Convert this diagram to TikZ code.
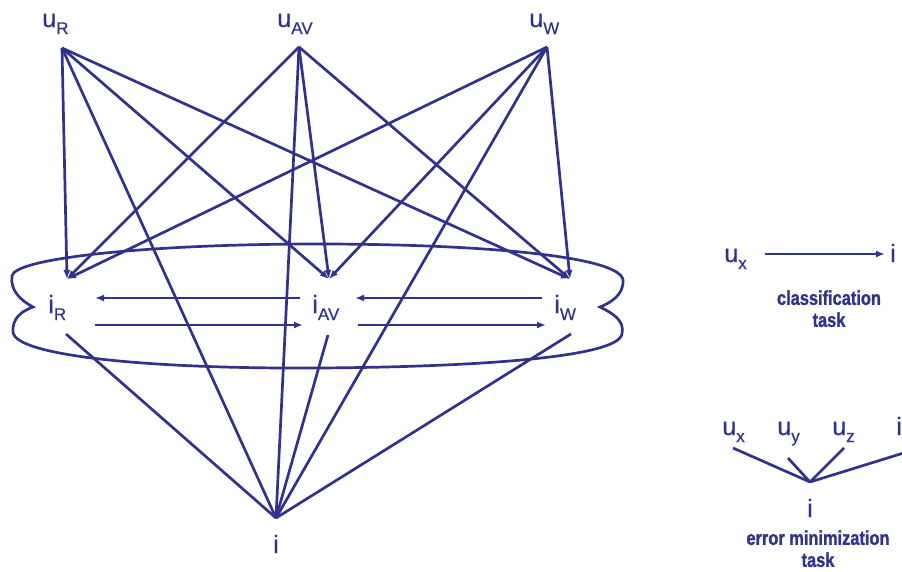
\documentclass[tikz,border=0pt]{standalone}
\usepackage{fontspec}
\setmainfont{Liberation Sans}
\newfontfamily\taskfont[FakeStretch=0.82,FakeBold=1.2]{Liberation Sans Bold}
\newfontfamily\lblfont[FakeBold=0.5]{Liberation Sans}
\usetikzlibrary{arrows.meta}
\definecolor{navy}{RGB}{50,50,140}
\newcommand{\lsub}[1]{\raisebox{-7pt}{\fontsize{17}{17}\selectfont #1}}

\begin{document}
\begin{tikzpicture}[x=1pt, y=-1pt, line width=2.7pt, draw=navy, text=navy,
    lbl/.style={inner sep=0pt, anchor=base west, font=\lblfont\fontsize{25}{25}\selectfont},
    tasklbl/.style={inner sep=0pt, anchor=north, align=center, font=\taskfont\fontsize{20}{22}\selectfont},
    arr/.style={-{Latex[length=9pt,width=7pt]}}]

      \useasboundingbox (0,0) rectangle (902,571);

      % Labels of the left graph
      \node[lbl] (uR) at (41,27) {u\lsub{R}};
      \node[lbl] (uAV) at (276,27) {u\lsub{AV}};
      \node[lbl] (uW) at (528,27) {u\lsub{W}};
      \node[lbl] (iR) at (47,313) {i\lsub{R}};
      \node[lbl] (iAV) at (311,313) {i\lsub{AV}};
      \node[lbl] (iW) at (553,313) {i\lsub{W}};
      \node[lbl, anchor=base] (i) at (276,553) {i};

      % Connection points
      \coordinate (uR-o) at (62,48);
      \coordinate (uAV-o) at (299,47);
      \coordinate (uW-o) at (547,47);
      \coordinate (iR-in) at (67,279);
      \coordinate (iAV-in) at (329,279);
      \coordinate (iW-in) at (570,279);
      \coordinate (iR-o) at (66,334);
      \coordinate (iAV-o) at (328,335);
      \coordinate (iW-o) at (571,334);
      \coordinate (apex) at (276,518);

      % Every user node feeds every item node and the final item
      \foreach \s in {uR,uAV,uW} {
        \foreach \t in {iR,iAV,iW} {
          \draw[arr] (\s-o) -- (\t-in);
        }
        \draw (\s-o) -- (apex);
      }

      % Item nodes feed the final item
      \foreach \t in {iR,iAV,iW} {
        \draw (\t-o) -- (apex);
      }

      % Arrows between the item nodes
      \coordinate (rUp) at (95,298);
      \coordinate (rLo) at (95,325);
      \coordinate (avUpL) at (300,298);
      \coordinate (avLoL) at (303,325);
      \coordinate (avUpR) at (355,298);
      \coordinate (avLoR) at (358,325);
      \coordinate (wUp) at (542,298);
      \coordinate (wLo) at (546,325);
      \draw[arr] (avUpL) -- (rUp);
      \draw[arr] (rLo) -- (avLoL);
      \draw[arr] (wUp) -- (avUpR);
      \draw[arr] (avLoR) -- (wLo);

      % Outline round the item nodes
      \draw (33,307) .. controls (20,300) and (10,290) .. (12,276)
        .. controls (14,258) and (150,244) .. (318,244)
        .. controls (480,244) and (620,256) .. (623,280)
        .. controls (624,295) and (610,303) .. (600,307)
        .. controls (612,313) and (625,320) .. (622,334)
        .. controls (618,358) and (470,367) .. (318,368)
        .. controls (150,369) and (15,356) .. (13,332)
        .. controls (12,318) and (22,311) .. (33,307) -- cycle;

      % Classification task
      \node[lbl] (cux) at (723,262) {u\lsub{x}};
      \node[lbl, anchor=base] (ci) at (893,262) {i};
      \coordinate (cux-o) at (765,254);
      \coordinate (ci-in) at (885,254);
      \draw[arr] (cux-o) -- (ci-in);
      \node[tasklbl] (ctask) at (829,289) {classification\\task};

      % Error minimization task
      \node[lbl] (eux) at (721,435) {u\lsub{x}};
      \node[lbl] (euy) at (776,435) {u\lsub{y}};
      \node[lbl] (euz) at (831,435) {u\lsub{z}};
      \node[lbl] (eix) at (895,435) {i\lsub{x}};
      \node[lbl, anchor=base] (ei) at (810,517) {i};
      \coordinate (eapex) at (810,482);
      \coordinate (eux-o) at (733,448);
      \coordinate (euy-o) at (788,458);
      \coordinate (euz-o) at (844,448);
      \coordinate (eix-o) at (910,451);
      \foreach \s in {eux,euy,euz,eix} {
        \draw (\s-o) -- (eapex);
      }
      \node[tasklbl] (etask) at (818,529) {error minimization\\task};

    \end{tikzpicture}
\end{document}
